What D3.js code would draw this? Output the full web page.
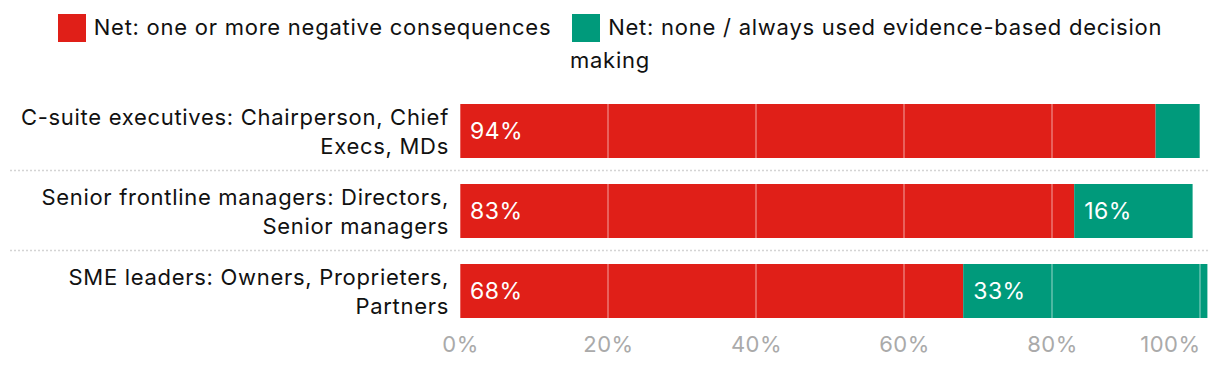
<!DOCTYPE html>
<html>
<head>
<meta charset="utf-8">
<script src="https://cdn.jsdelivr.net/npm/d3@7"></script>
<style>
  html, body { margin: 0; padding: 0; background: #fff; }
  body { width: 1220px; height: 366px; position: relative; overflow: hidden; font-family: Inter, "Noto Sans", sans-serif; }
  #legend { position: absolute; left: 45px; top: 11px; width: 1130px; text-align: center; font-size: 22px; letter-spacing: 0.75px; line-height: 33px; color: #111; }
  .sw { display: inline-block; width: 28px; height: 28px; vertical-align: -7px; margin-right: 8px; }
  .sw.later { margin-left: 14px; }
  svg { position: absolute; left: 0; top: 0; }
</style>
</head>
<body>
<div id="legend"></div>
<svg id="chart" width="1220" height="366"></svg>
<script>
const categories = [
  "C-suite executives: Chairperson, Chief Execs, MDs",
  "Senior frontline managers: Directors, Senior managers",
  "SME leaders: Owners, Proprieters, Partners"
];
const seriesNames = [
  "Net: one or more negative consequences",
  "Net: none / always used evidence-based decision making"
];
const negativeValues = [94, 83, 68];
const noneValues = [6, 16, 33];
const tickValues = [0, 20, 40, 60, 80, 100];
const tickLabels = ["0%", "20%", "40%", "60%", "80%", "100%"];
const colors = ["#e01f18", "#009a7b"];

const series = [negativeValues, noneValues];

// Legend
const legend = d3.select("#legend");
seriesNames.forEach((name, i) => {
  if (i > 0) legend.append("span").text(" ");
  const it = legend.append("span").attr("class", "item");
  it.append("span").attr("class", i > 0 ? "sw later" : "sw").style("background", colors[i]);
  it.append("span").text(name);
});

const svg = d3.select("#chart");
const x = d3.scaleLinear().domain([0, 100]).range([460, 1200]);
const y = d3.scaleBand().domain(categories).range([91, 331]).paddingInner(0.325).paddingOuter(0.1625);

// separators
const seps = categories.slice(0, -1).map(c => y(c) + y.bandwidth() + y.step() * y.paddingInner() / 2 - 0.5);
svg.append("g").selectAll("line").data(seps).join("line")
  .attr("x1", 10).attr("x2", 1208)
  .attr("y1", d => d).attr("y2", d => d)
  .attr("stroke", "#d4d4d4").attr("stroke-width", 1.5).attr("stroke-dasharray", "2,2");

// stacked bars
const stackData = categories.map((c, i) => {
  let acc = 0;
  return series.map((s, k) => {
    const d = { cat: c, k, v: s[i], x0: acc, x1: acc + s[i] };
    acc += s[i];
    return d;
  });
}).flat();

svg.append("g").selectAll("rect").data(stackData).join("rect")
  .attr("x", d => x(d.x0))
  .attr("width", d => x(d.x1) - x(d.x0))
  .attr("y", d => y(d.cat))
  .attr("height", y.bandwidth())
  .attr("fill", d => colors[d.k]);

// gridlines on top of bars
svg.append("g").selectAll("line").data(tickValues).join("line")
  .attr("x1", d => x(d)).attr("x2", d => x(d))
  .attr("y1", y(categories[0])).attr("y2", y(categories[categories.length - 1]) + y.bandwidth())
  .attr("stroke", "#fff").attr("stroke-opacity", 0.4).attr("stroke-width", 1.5);

// value labels
svg.append("g").selectAll("text").data(stackData.filter(d => d.v >= 10)).join("text")
  .attr("x", d => x(d.x0) + 10)
  .attr("y", d => y(d.cat) + y.bandwidth() / 2 + 7.5)
  .attr("fill", "#fff")
  .attr("font-size", 23)
  .attr("letter-spacing", 0.5)
  .text(d => d.v + "%");

// category labels (wrapped)
const labelG = svg.append("g");
categories.forEach(c => {
  const t = labelG.append("text")
    .attr("x", 449).attr("text-anchor", "end")
    .attr("font-size", 22).attr("letter-spacing", 0.7).attr("fill", "#111");
  const words = c.split(" ");
  const lines = [];
  let line = [];
  const probe = t.append("tspan");
  words.forEach(w => {
    const test = line.concat(w).join(" ");
    probe.text(test);
    if (probe.node().getComputedTextLength() > 445 && line.length) {
      lines.push(line.join(" "));
      line = [w];
    } else line.push(w);
  });
  lines.push(line.join(" "));
  probe.remove();
  const cy = y(c) + y.bandwidth() / 2;
  const lh = 29;
  const first = cy - (lines.length - 1) * lh / 2 + 8;
  lines.forEach((l, i) => {
    t.append("tspan").attr("x", 449).attr("y", first + i * lh).text(l);
  });
});

// x axis labels
const axis = d3.axisBottom(x).tickValues(tickValues).tickFormat((d, i) => tickLabels[i]).tickSize(0).tickPadding(0);
const ag = svg.append("g").attr("transform", "translate(0,336)").call(axis);
ag.select(".domain").remove();
ag.selectAll("text")
  .attr("font-family", "Inter, 'Noto Sans', sans-serif")
  .attr("font-size", 22).attr("fill", "#aaa")
  .attr("letter-spacing", 0.5)
  .attr("dy", "0.73em")
  .attr("text-anchor", d => d === 100 ? "end" : "middle");
</script>
</body>
</html>
